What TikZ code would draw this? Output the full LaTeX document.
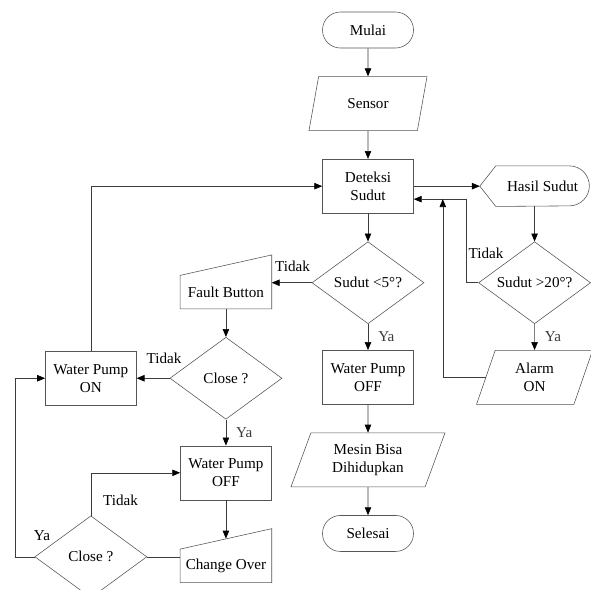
\documentclass[tikz,border=0pt]{standalone}
\usepackage{fontspec}
\setmainfont{Liberation Serif}
\usepackage{tikz}
\usetikzlibrary{arrows.meta, positioning, calc, shapes.geometric}
\definecolor{edgegray}{RGB}{85,85,85}
\definecolor{linegray}{RGB}{60,60,60}

\begin{document}
\begin{tikzpicture}[
  x=0.7pt, y=-0.7pt,
  node distance=19.6pt and 28pt,
  font=\fontsize{10.6}{12.6}\selectfont,
  term/.style={draw=edgegray, rounded corners=12.5pt, minimum width=63.7pt,
               minimum height=25.2pt, align=center},
  box/.style={draw=edgegray, rectangle, minimum width=63.7pt,
              minimum height=37.8pt, align=center},
  io/.style={draw=edgegray, trapezium, trapezium left angle=64,
             trapezium right angle=116, trapezium stretches body,
             minimum height=37.8pt, align=center},
  dec/.style={draw=edgegray, diamond, aspect=1.37, inner sep=0pt,
              minimum width=78.4pt, minimum height=57.4pt, align=center},
  manual/.style={rectangle, minimum width=63.7pt, minimum height=23.1pt},
  outline/.style={draw=edgegray},
  arr/.style={-{Triangle[length=5.5pt, width=4.5pt, color=black]}, linegray},
  line/.style={linegray},
  lbl/.style={inner sep=1pt}
]
\useasboundingbox (0,0) rectangle (591,589);

% Main column
\node[term] (mulai) at (368,30) {Mulai};
\node[io, minimum width=82.6pt, below=of mulai] (sensor) {Sensor};
\node[box, below=of sensor] (deteksi) {Deteksi\\Sudut};
\node[dec, below=of deteksi] (s5) {Sudut <5°?};
\node[box, below=18.2pt of s5] (wpoff) {Water Pump\\OFF};
\node[io, minimum width=107.8pt, below=of wpoff] (mesin) {Mesin Bisa\\Dihidupkan};
\node[term, below=of mesin] (selesai) {Selesai};

% Right branch
\node[rectangle, minimum width=65.1pt, minimum height=28pt,
      right=57.4pt of deteksi] (hasil) {Hasil Sudut};
\coordinate (hasiltip) at ([xshift=-11.2pt]hasil.west);
\draw[outline] (hasiltip) -- (hasil.north west) -- ([xshift=-14pt]hasil.north east)
  arc[start angle=90, end angle=-90, radius=14pt] -- (hasil.south west) -- cycle;
\node[dec, right=37.8pt of s5] (s20) {Sudut >20°?};
\node[io, minimum width=81.2pt, below=18.2pt of s20] (alarm) {Alarm\\ON};

% Left branch
\node[manual, left=28pt of s5, yshift=-6.6pt] (fault) {Fault Button};
\node[dec, below=of fault] (c1) {Close ?};
\node[box, left=23.1pt of c1] (wpon) {Water Pump\\ON};
\node[box, below=18.2pt of c1] (wpoff2) {Water Pump\\OFF};
\node[manual, below=34.3pt of wpoff2] (change) {Change Over};
\node[dec, below=77pt of wpon] (c2) {Close ?};

% Manual input outlines
\foreach \n in {fault, change}
  \draw[outline] (\n.south west) -- (\n.south east) -- ++(0,-54) -- (\n.north west) -- cycle;

% Connectors
\draw[arr] (mulai) -- (sensor);
\draw[arr] (sensor) -- (deteksi);
\draw[arr] (deteksi) -- (s5);
\draw[arr] (s5) -- node[lbl, right=6pt] {Ya} (wpoff);
\draw[arr] (wpoff) -- (mesin);
\draw[arr] (mesin) -- (selesai);

\draw[arr] (deteksi.east) -- (hasiltip);
\draw[arr] (hasil.south -| s20.north) -- (s20.north);
\draw[arr] (s20) -- node[lbl, right=6pt] {Ya} (alarm);
\draw[arr] (s20.west) -- ++(-12,0) |- ([yshift=-9.1pt]deteksi.east);
\coordinate (back) at ([xshift=20.3pt, yshift=-9.1pt]deteksi.east);
\draw[arr] (alarm.west) -| (back);

\draw[arr] (s5.west) -- (s5.west -| fault.east);
\draw[arr] (fault) -- (c1);
\draw[arr] (c1) -- (wpon);
\draw[arr] (c1) -- node[lbl, right=6pt] {Ya} (wpoff2);
\draw[arr] (wpoff2) -- ($(change.north)+(0,-10.5)$);
\draw[line] (c2.east) -- (c2.east -| change.west);
\draw[arr] (c2.north) |- (wpoff2.west);
\draw[arr] (c2.west) -- ++(-19,0) |- (wpon.west);
\draw[arr] (wpon.north) |- (deteksi.west);

% Branch labels
\node[lbl, anchor=south west] at ([xshift=-8pt, yshift=15.8pt]s20.west) {Tidak};
\node[lbl, anchor=south east] at ([yshift=6.3pt]s5.west) {Tidak};
\node[lbl, anchor=south east] at ([xshift=9.4pt, yshift=8.8pt]c1.west) {Tidak};
\node[lbl, anchor=south west] at ([xshift=7.4pt, yshift=6pt]c2.north) {Tidak};
\node[lbl, anchor=south west] at ([xshift=-1.7pt, yshift=10.2pt]c2.west) {Ya};
\end{tikzpicture}
\end{document}
